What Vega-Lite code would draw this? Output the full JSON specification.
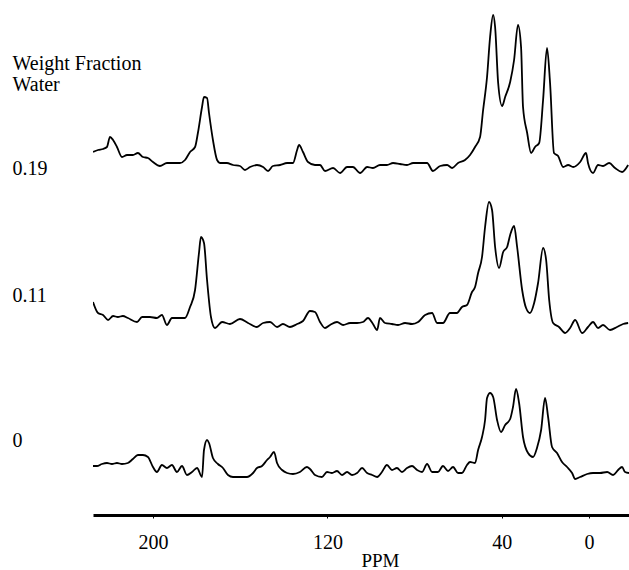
{
"$schema": "https://vega.github.io/schema/vega-lite/v6.json",
"padding": {"left": 12, "top": 0, "right": 0, "bottom": 0},
"background": "white",
"spacing": 0,
"config": {"view": {"stroke": null}, "font": "'Liberation Serif', 'Times New Roman', serif", "axis": {"labelFont": "'Liberation Serif', 'Times New Roman', serif", "titleFont": "'Liberation Serif', 'Times New Roman', serif", "titleFontWeight": "normal", "titleColor": "black", "labelColor": "black", "grid": false}},
"datasets": {"spectra": [
{"water":"0.19","ppm":227.5,"intensity":13},{"water":"0.19","ppm":225.2,"intensity":15},{"water":"0.19","ppm":222.9,"intensity":16},{"water":"0.19","ppm":221.1,"intensity":18},{"water":"0.19","ppm":219.7,"intensity":28},{"water":"0.19","ppm":218.3,"intensity":25},{"water":"0.19","ppm":216.5,"intensity":18},{"water":"0.19","ppm":214.2,"intensity":8},{"water":"0.19","ppm":211.9,"intensity":10},{"water":"0.19","ppm":209.2,"intensity":10},{"water":"0.19","ppm":206.9,"intensity":12},{"water":"0.19","ppm":204.6,"intensity":8},{"water":"0.19","ppm":202.3,"intensity":7},{"water":"0.19","ppm":200.0,"intensity":3},{"water":"0.19","ppm":196.8,"intensity":-1},{"water":"0.19","ppm":193.6,"intensity":2},{"water":"0.19","ppm":190.8,"intensity":2},{"water":"0.19","ppm":187.6,"intensity":2},{"water":"0.19","ppm":185.3,"intensity":5},{"water":"0.19","ppm":183.0,"intensity":13},{"water":"0.19","ppm":180.7,"intensity":18},{"water":"0.19","ppm":179.4,"intensity":32},{"water":"0.19","ppm":177.5,"intensity":58},{"water":"0.19","ppm":176.6,"intensity":68},{"water":"0.19","ppm":175.2,"intensity":67},{"water":"0.19","ppm":174.3,"intensity":52},{"water":"0.19","ppm":172.5,"intensity":25},{"water":"0.19","ppm":170.6,"intensity":5},{"water":"0.19","ppm":169.3,"intensity":2},{"water":"0.19","ppm":166.1,"intensity":2},{"water":"0.19","ppm":163.3,"intensity":0},{"water":"0.19","ppm":160.1,"intensity":-1},{"water":"0.19","ppm":157.8,"intensity":-5},{"water":"0.19","ppm":155.5,"intensity":-2},{"water":"0.19","ppm":152.3,"intensity":0},{"water":"0.19","ppm":149.5,"intensity":-2},{"water":"0.19","ppm":147.2,"intensity":-6},{"water":"0.19","ppm":145.0,"intensity":-1},{"water":"0.19","ppm":141.7,"intensity":0},{"water":"0.19","ppm":138.5,"intensity":2},{"water":"0.19","ppm":135.8,"intensity":2},{"water":"0.19","ppm":133.9,"intensity":15},{"water":"0.19","ppm":133.0,"intensity":20},{"water":"0.19","ppm":131.2,"intensity":13},{"water":"0.19","ppm":128.9,"intensity":3},{"water":"0.19","ppm":125.7,"intensity":0},{"water":"0.19","ppm":123.4,"intensity":0},{"water":"0.19","ppm":121.1,"intensity":-6},{"water":"0.19","ppm":117.4,"intensity":-3},{"water":"0.19","ppm":114.2,"intensity":-8},{"water":"0.19","ppm":111.0,"intensity":-2},{"water":"0.19","ppm":108.3,"intensity":-2},{"water":"0.19","ppm":105.0,"intensity":-8},{"water":"0.19","ppm":101.8,"intensity":-2},{"water":"0.19","ppm":99.1,"intensity":-3},{"water":"0.19","ppm":95.9,"intensity":0},{"water":"0.19","ppm":92.7,"intensity":0},{"water":"0.19","ppm":89.9,"intensity":2},{"water":"0.19","ppm":86.7,"intensity":1},{"water":"0.19","ppm":83.5,"intensity":0},{"water":"0.19","ppm":80.7,"intensity":2},{"water":"0.19","ppm":77.5,"intensity":2},{"water":"0.19","ppm":74.3,"intensity":2},{"water":"0.19","ppm":71.6,"intensity":-6},{"water":"0.19","ppm":68.3,"intensity":-1},{"water":"0.19","ppm":65.1,"intensity":0},{"water":"0.19","ppm":62.8,"intensity":-3},{"water":"0.19","ppm":60.1,"intensity":2},{"water":"0.19","ppm":56.9,"intensity":5},{"water":"0.19","ppm":54.6,"intensity":10},{"water":"0.19","ppm":52.3,"intensity":18},{"water":"0.19","ppm":50.0,"intensity":28},{"water":"0.19","ppm":48.6,"intensity":55},{"water":"0.19","ppm":46.8,"intensity":88},{"water":"0.19","ppm":45.4,"intensity":128},{"water":"0.19","ppm":44.0,"intensity":150},{"water":"0.19","ppm":43.1,"intensity":138},{"water":"0.19","ppm":41.7,"intensity":82},{"water":"0.19","ppm":39.9,"intensity":59},{"water":"0.19","ppm":38.5,"intensity":68},{"water":"0.19","ppm":36.2,"intensity":83},{"water":"0.19","ppm":34.4,"intensity":105},{"water":"0.19","ppm":32.6,"intensity":140},{"water":"0.19","ppm":31.2,"intensity":118},{"water":"0.19","ppm":30.3,"intensity":58},{"water":"0.19","ppm":28.4,"intensity":32},{"water":"0.19","ppm":26.6,"intensity":12},{"water":"0.19","ppm":24.8,"intensity":18},{"water":"0.19","ppm":22.9,"intensity":22},{"water":"0.19","ppm":21.1,"intensity":65},{"water":"0.19","ppm":19.3,"intensity":117},{"water":"0.19","ppm":17.9,"intensity":82},{"water":"0.19","ppm":16.1,"intensity":12},{"water":"0.19","ppm":14.2,"intensity":9},{"water":"0.19","ppm":11.9,"intensity":-2},{"water":"0.19","ppm":9.6,"intensity":0},{"water":"0.19","ppm":7.3,"intensity":-2},{"water":"0.19","ppm":4.1,"intensity":3},{"water":"0.19","ppm":1.4,"intensity":12},{"water":"0.19","ppm":0.5,"intensity":2},{"water":"0.19","ppm":-1.8,"intensity":-8},{"water":"0.19","ppm":-4.1,"intensity":0},{"water":"0.19","ppm":-6.4,"intensity":-1},{"water":"0.19","ppm":-9.2,"intensity":2},{"water":"0.19","ppm":-11.9,"intensity":-3},{"water":"0.19","ppm":-15.1,"intensity":-7},{"water":"0.19","ppm":-17.9,"intensity":0},
{"water":"0.11","ppm":227.5,"intensity":23},{"water":"0.11","ppm":225.2,"intensity":12},{"water":"0.11","ppm":222.9,"intensity":10},{"water":"0.11","ppm":220.6,"intensity":5},{"water":"0.11","ppm":218.3,"intensity":9},{"water":"0.11","ppm":216.1,"intensity":8},{"water":"0.11","ppm":213.8,"intensity":9},{"water":"0.11","ppm":211.5,"intensity":7},{"water":"0.11","ppm":207.3,"intensity":3},{"water":"0.11","ppm":205.0,"intensity":8},{"water":"0.11","ppm":201.4,"intensity":8},{"water":"0.11","ppm":198.2,"intensity":7},{"water":"0.11","ppm":195.9,"intensity":10},{"water":"0.11","ppm":193.6,"intensity":0},{"water":"0.11","ppm":191.3,"intensity":7},{"water":"0.11","ppm":188.5,"intensity":7},{"water":"0.11","ppm":185.3,"intensity":7},{"water":"0.11","ppm":183.0,"intensity":18},{"water":"0.11","ppm":180.7,"intensity":35},{"water":"0.11","ppm":178.9,"intensity":72},{"water":"0.11","ppm":178.0,"intensity":88},{"water":"0.11","ppm":176.6,"intensity":82},{"water":"0.11","ppm":175.2,"intensity":45},{"water":"0.11","ppm":173.4,"intensity":8},{"water":"0.11","ppm":171.6,"intensity":-3},{"water":"0.11","ppm":168.3,"intensity":3},{"water":"0.11","ppm":164.7,"intensity":1},{"water":"0.11","ppm":160.1,"intensity":6},{"water":"0.11","ppm":156.4,"intensity":2},{"water":"0.11","ppm":152.3,"intensity":-2},{"water":"0.11","ppm":149.5,"intensity":2},{"water":"0.11","ppm":146.3,"intensity":3},{"water":"0.11","ppm":143.1,"intensity":-2},{"water":"0.11","ppm":140.4,"intensity":1},{"water":"0.11","ppm":137.2,"intensity":-2},{"water":"0.11","ppm":133.9,"intensity":1},{"water":"0.11","ppm":131.2,"intensity":4},{"water":"0.11","ppm":128.0,"intensity":14},{"water":"0.11","ppm":125.7,"intensity":13},{"water":"0.11","ppm":123.4,"intensity":3},{"water":"0.11","ppm":121.1,"intensity":-3},{"water":"0.11","ppm":118.8,"intensity":0},{"water":"0.11","ppm":115.6,"intensity":3},{"water":"0.11","ppm":112.8,"intensity":0},{"water":"0.11","ppm":109.6,"intensity":2},{"water":"0.11","ppm":106.4,"intensity":2},{"water":"0.11","ppm":103.7,"intensity":3},{"water":"0.11","ppm":101.4,"intensity":7},{"water":"0.11","ppm":99.1,"intensity":1},{"water":"0.11","ppm":97.2,"intensity":-5},{"water":"0.11","ppm":95.9,"intensity":7},{"water":"0.11","ppm":93.6,"intensity":2},{"water":"0.11","ppm":90.4,"intensity":1},{"water":"0.11","ppm":87.6,"intensity":0},{"water":"0.11","ppm":84.4,"intensity":2},{"water":"0.11","ppm":81.2,"intensity":1},{"water":"0.11","ppm":78.4,"intensity":3},{"water":"0.11","ppm":75.2,"intensity":10},{"water":"0.11","ppm":72.0,"intensity":12},{"water":"0.11","ppm":69.7,"intensity":2},{"water":"0.11","ppm":67.0,"intensity":2},{"water":"0.11","ppm":63.8,"intensity":12},{"water":"0.11","ppm":60.6,"intensity":12},{"water":"0.11","ppm":58.3,"intensity":18},{"water":"0.11","ppm":56.0,"intensity":20},{"water":"0.11","ppm":53.7,"intensity":33},{"water":"0.11","ppm":52.3,"intensity":38},{"water":"0.11","ppm":50.9,"intensity":52},{"water":"0.11","ppm":49.1,"intensity":68},{"water":"0.11","ppm":47.7,"intensity":98},{"water":"0.11","ppm":45.9,"intensity":123},{"water":"0.11","ppm":44.5,"intensity":115},{"water":"0.11","ppm":43.1,"intensity":78},{"water":"0.11","ppm":41.3,"intensity":57},{"water":"0.11","ppm":39.4,"intensity":73},{"water":"0.11","ppm":37.6,"intensity":78},{"water":"0.11","ppm":36.2,"intensity":90},{"water":"0.11","ppm":34.4,"intensity":99},{"water":"0.11","ppm":33.0,"intensity":78},{"water":"0.11","ppm":30.7,"intensity":35},{"water":"0.11","ppm":28.9,"intensity":17},{"water":"0.11","ppm":27.1,"intensity":12},{"water":"0.11","ppm":25.2,"intensity":22},{"water":"0.11","ppm":23.4,"intensity":42},{"water":"0.11","ppm":21.1,"intensity":77},{"water":"0.11","ppm":19.7,"intensity":65},{"water":"0.11","ppm":18.3,"intensity":25},{"water":"0.11","ppm":16.5,"intensity":2},{"water":"0.11","ppm":13.8,"intensity":-2},{"water":"0.11","ppm":11.0,"intensity":-8},{"water":"0.11","ppm":8.7,"intensity":-3},{"water":"0.11","ppm":6.4,"intensity":5},{"water":"0.11","ppm":3.2,"intensity":-8},{"water":"0.11","ppm":0.5,"intensity":-2},{"water":"0.11","ppm":-1.8,"intensity":3},{"water":"0.11","ppm":-4.1,"intensity":-3},{"water":"0.11","ppm":-6.4,"intensity":0},{"water":"0.11","ppm":-9.6,"intensity":-5},{"water":"0.11","ppm":-12.8,"intensity":-2},{"water":"0.11","ppm":-15.6,"intensity":1},{"water":"0.11","ppm":-17.9,"intensity":2},
{"water":"0","ppm":227.5,"intensity":6},{"water":"0","ppm":225.7,"intensity":6},{"water":"0","ppm":223.4,"intensity":8},{"water":"0","ppm":221.1,"intensity":9},{"water":"0","ppm":218.8,"intensity":8},{"water":"0","ppm":216.5,"intensity":9},{"water":"0","ppm":214.2,"intensity":8},{"water":"0","ppm":211.5,"intensity":9},{"water":"0","ppm":209.2,"intensity":13},{"water":"0","ppm":206.9,"intensity":17},{"water":"0","ppm":204.6,"intensity":17},{"water":"0","ppm":202.3,"intensity":15},{"water":"0","ppm":200.0,"intensity":5},{"water":"0","ppm":198.2,"intensity":0},{"water":"0","ppm":195.9,"intensity":7},{"water":"0","ppm":193.6,"intensity":4},{"water":"0","ppm":191.3,"intensity":7},{"water":"0","ppm":189.0,"intensity":0},{"water":"0","ppm":186.7,"intensity":6},{"water":"0","ppm":184.4,"intensity":-3},{"water":"0","ppm":182.1,"intensity":0},{"water":"0","ppm":179.8,"intensity":4},{"water":"0","ppm":177.5,"intensity":-5},{"water":"0","ppm":176.6,"intensity":22},{"water":"0","ppm":175.2,"intensity":32},{"water":"0","ppm":174.3,"intensity":29},{"water":"0","ppm":172.5,"intensity":14},{"water":"0","ppm":170.2,"intensity":8},{"water":"0","ppm":167.9,"intensity":4},{"water":"0","ppm":165.6,"intensity":-3},{"water":"0","ppm":163.3,"intensity":-5},{"water":"0","ppm":160.1,"intensity":-5},{"water":"0","ppm":156.9,"intensity":-5},{"water":"0","ppm":154.1,"intensity":-1},{"water":"0","ppm":152.3,"intensity":4},{"water":"0","ppm":150.0,"intensity":6},{"water":"0","ppm":147.7,"intensity":12},{"water":"0","ppm":146.3,"intensity":15},{"water":"0","ppm":144.5,"intensity":20},{"water":"0","ppm":143.1,"intensity":9},{"water":"0","ppm":140.8,"intensity":2},{"water":"0","ppm":138.5,"intensity":-1},{"water":"0","ppm":135.8,"intensity":-2},{"water":"0","ppm":132.6,"intensity":0},{"water":"0","ppm":129.4,"intensity":5},{"water":"0","ppm":128.0,"intensity":3},{"water":"0","ppm":125.7,"intensity":-3},{"water":"0","ppm":122.5,"intensity":-5},{"water":"0","ppm":120.2,"intensity":0},{"water":"0","ppm":117.9,"intensity":-1},{"water":"0","ppm":115.6,"intensity":1},{"water":"0","ppm":113.3,"intensity":-3},{"water":"0","ppm":111.0,"intensity":0},{"water":"0","ppm":108.7,"intensity":-3},{"water":"0","ppm":106.4,"intensity":-1},{"water":"0","ppm":104.1,"intensity":4},{"water":"0","ppm":101.8,"intensity":-1},{"water":"0","ppm":99.5,"intensity":-3},{"water":"0","ppm":97.2,"intensity":-5},{"water":"0","ppm":95.0,"intensity":0},{"water":"0","ppm":92.7,"intensity":7},{"water":"0","ppm":90.4,"intensity":2},{"water":"0","ppm":88.1,"intensity":4},{"water":"0","ppm":85.8,"intensity":0},{"water":"0","ppm":83.5,"intensity":4},{"water":"0","ppm":81.2,"intensity":6},{"water":"0","ppm":78.9,"intensity":2},{"water":"0","ppm":76.6,"intensity":0},{"water":"0","ppm":74.3,"intensity":8},{"water":"0","ppm":72.0,"intensity":0},{"water":"0","ppm":69.3,"intensity":0},{"water":"0","ppm":67.0,"intensity":6},{"water":"0","ppm":64.7,"intensity":1},{"water":"0","ppm":62.4,"intensity":5},{"water":"0","ppm":60.1,"intensity":-1},{"water":"0","ppm":58.3,"intensity":-1},{"water":"0","ppm":56.0,"intensity":7},{"water":"0","ppm":54.6,"intensity":10},{"water":"0","ppm":52.3,"intensity":9},{"water":"0","ppm":50.9,"intensity":22},{"water":"0","ppm":49.1,"intensity":35},{"water":"0","ppm":47.7,"intensity":52},{"water":"0","ppm":46.8,"intensity":74},{"water":"0","ppm":45.4,"intensity":79},{"water":"0","ppm":44.0,"intensity":75},{"water":"0","ppm":42.2,"intensity":52},{"water":"0","ppm":40.4,"intensity":40},{"water":"0","ppm":38.5,"intensity":47},{"water":"0","ppm":36.2,"intensity":53},{"water":"0","ppm":34.9,"intensity":65},{"water":"0","ppm":33.5,"intensity":83},{"water":"0","ppm":32.1,"intensity":69},{"water":"0","ppm":30.3,"intensity":35},{"water":"0","ppm":28.0,"intensity":19},{"water":"0","ppm":25.7,"intensity":15},{"water":"0","ppm":23.9,"intensity":24},{"water":"0","ppm":22.0,"intensity":42},{"water":"0","ppm":20.2,"intensity":74},{"water":"0","ppm":18.8,"intensity":55},{"water":"0","ppm":17.0,"intensity":25},{"water":"0","ppm":14.7,"intensity":19},{"water":"0","ppm":12.4,"intensity":10},{"water":"0","ppm":10.1,"intensity":5},{"water":"0","ppm":7.8,"intensity":-1},{"water":"0","ppm":6.4,"intensity":-7},{"water":"0","ppm":4.1,"intensity":-5},{"water":"0","ppm":0.9,"intensity":-2},{"water":"0","ppm":-1.8,"intensity":-1},{"water":"0","ppm":-5.0,"intensity":-1},{"water":"0","ppm":-8.3,"intensity":0},{"water":"0","ppm":-11.0,"intensity":-3},{"water":"0","ppm":-13.3,"intensity":2},{"water":"0","ppm":-15.1,"intensity":5},{"water":"0","ppm":-16.5,"intensity":0},{"water":"0","ppm":-18.3,"intensity":-1}
]},
"vconcat": [
{"width": 536, "height": 180, "data": {"name": "spectra"}, "transform": [{"filter": "datum.water === '0.19'"}],
 "mark": {"type": "line", "color": "black", "strokeWidth": 1.8, "clip": true, "interpolate": "monotone"},
 "encoding": {
  "x": {"field": "ppm", "type": "quantitative", "scale": {"domain": [-18.3, 227.5], "reverse": true, "nice": false, "zero": false}, "axis": {"orient": "top", "title": ["Weight Fraction", "Water"], "domain": false, "ticks": false, "labels": false, "titleAngle": 0, "titleAlign": "left", "titleBaseline": "alphabetic", "titleX": -81, "titleY": 69, "titleFontSize": 20, "titleLineHeight": 21, "titlePadding": 0}},
  "y": {"field": "intensity", "type": "quantitative", "scale": {"domain": [-15, 165], "nice": false, "zero": false}, "axis": {"title": "0.19", "domain": false, "ticks": false, "labels": false, "titleAngle": 0, "titleAlign": "left", "titleBaseline": "alphabetic", "titleX": -81, "titleY": 174, "titleFontSize": 20}}
 }},
{"width": 536, "height": 165, "data": {"name": "spectra"}, "transform": [{"filter": "datum.water === '0.11'"}],
 "mark": {"type": "line", "color": "black", "strokeWidth": 1.8, "clip": true, "interpolate": "monotone"},
 "encoding": {
  "x": {"field": "ppm", "type": "quantitative", "scale": {"domain": [-18.3, 227.5], "reverse": true, "nice": false, "zero": false}, "axis": null},
  "y": {"field": "intensity", "type": "quantitative", "scale": {"domain": [-20, 145], "nice": false, "zero": false}, "axis": {"title": "0.11", "domain": false, "ticks": false, "labels": false, "titleAngle": 0, "titleAlign": "left", "titleBaseline": "alphabetic", "titleX": -81, "titleY": 121, "titleFontSize": 20}}
 }},
{"width": 536, "height": 170, "data": {"name": "spectra"}, "transform": [{"filter": "datum.water === '0'"}],
 "mark": {"type": "line", "color": "black", "strokeWidth": 1.8, "clip": true, "interpolate": "monotone"},
 "encoding": {
  "x": {"field": "ppm", "type": "quantitative", "scale": {"domain": [-18.3, 227.5], "reverse": true, "nice": false, "zero": false}, "axis": {"values": [200, 120, 40, 0], "domain": true, "domainColor": "black", "domainWidth": 3, "ticks": true, "tickSize": 3, "tickColor": "black", "labelFontSize": 20, "labelPadding": 14, "labelFlush": false, "labelOverlap": false, "title": "PPM", "titleFontSize": 19, "titleX": 287, "titleY": 45, "titleAlign": "center", "titleBaseline": "middle"}},
  "y": {"field": "intensity", "type": "quantitative", "scale": {"domain": [-43, 127], "nice": false, "zero": false}, "axis": {"title": "0", "domain": false, "ticks": false, "labels": false, "titleAngle": 0, "titleAlign": "left", "titleBaseline": "alphabetic", "titleX": -81, "titleY": 101, "titleFontSize": 20}}
 }}
]
}
